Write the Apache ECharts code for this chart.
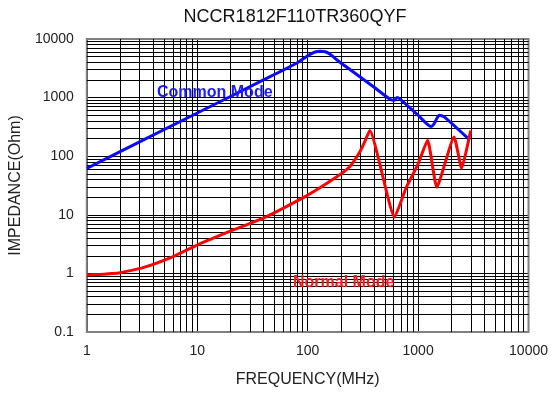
<!DOCTYPE html>
<html><head><meta charset="utf-8">
<script src="https://cdn.jsdelivr.net/npm/echarts@6/dist/echarts.min.js"></script>
<style>html,body{margin:0;padding:0;background:#fff}#c{width:551px;height:393px}</style>
</head><body><div id="c"></div>
<script>
const chartTitle = 'NCCR1812F110TR360QYF';
const xName = 'FREQUENCY(MHz)';
const yName = 'IMPEDANCE(Ohm)';
const xTicks = [1, 10, 100, 1000, 10000];
const yTicks = [0.1, 1, 10, 100, 1000, 10000];
const gridMultipliers = [2, 3, 4, 5, 6, 7, 8, 9];

const commonLabel = 'Common Mode';
const commonFreq = [1, 10, 40.6, 80, 98, 108, 117, 130, 144, 160, 183, 250, 400, 560, 610, 645, 690, 1000, 1306, 1400, 1550, 1722, 2930];
const commonZ    = [62, 546, 2040, 3900, 5040, 5600, 6000, 6150, 6050, 5500, 4430, 2870, 1500, 930, 900, 1000, 930, 500, 321, 360, 500, 470, 190];

const normalLabel = 'Normal Mode';
const normalFreq = [1, 1.95, 3.17, 5.89, 10.2, 20.4, 40.6, 93, 185, 241, 297, 330, 365, 612, 778, 991, 1219, 1476, 2118, 2478, 2990];
const normalZ    = [0.935, 1.02, 1.24, 1.9, 3.11, 5.36, 8.97, 20, 45, 66.5, 119, 180, 275, 9.2, 28.7, 71, 187, 29.5, 213, 62, 275];

const pairs = (xs, ys) => xs.map((x, i) => [x, ys[i]]);

// minor grid lines (2..9 within each decade)
const minorX = [];
for (let i = 0; i < xTicks.length - 1; i++) gridMultipliers.forEach(m => minorX.push({xAxis: xTicks[i] * m}));
const minorY = [];
for (let i = 0; i < yTicks.length - 1; i++) gridMultipliers.forEach(m => minorY.push({yAxis: +(yTicks[i] * m).toPrecision(6)}));

const FONT = '"Liberation Sans", Arial, sans-serif';
const fmt = v => String(+(+v).toPrecision(6));

const chart = echarts.init(document.getElementById('c'), null, {renderer: 'canvas'});
chart.setOption({
  animation: false,
  backgroundColor: '#fff',
  grid: {left: 85, right: 21, top: 39, bottom: 57, show: true, borderColor: '#808080', borderWidth: 2, backgroundColor: 'transparent', z: 5},
  xAxis: {
    type: 'log', logBase: 10, min: 1, max: 10000,
    name: xName, nameLocation: 'middle', nameGap: 40,
    nameTextStyle: {fontFamily: FONT, fontSize: 16, color: '#222'},
    axisLine: {show: false}, axisTick: {show: false},
    axisLabel: {fontFamily: FONT, fontSize: 14, color: '#222', margin: 12, formatter: fmt},
    splitLine: {show: true, lineStyle: {color: '#000', width: 1}}
  },
  yAxis: {
    type: 'log', logBase: 10, min: 0.1, max: 10000,
    name: yName, nameLocation: 'middle', nameGap: 56,
    nameTextStyle: {fontFamily: FONT, fontSize: 16, color: '#222'},
    axisLine: {show: false}, axisTick: {show: false},
    axisLabel: {fontFamily: FONT, fontSize: 14, color: '#222', margin: 13, formatter: fmt},
    splitLine: {show: true, lineStyle: {color: '#000', width: 1}}
  },
  series: [
    {
      type: 'line', data: [], z: 1, silent: true,
      markLine: {
        silent: true, symbol: ['none', 'none'], animation: false,
        label: {show: false},
        lineStyle: {color: '#000', width: 1, type: 'solid'},
        emphasis: {disabled: true},
        data: minorX.concat(minorY)
      }
    },
    {
      name: commonLabel, type: 'line', data: pairs(commonFreq, commonZ), z: 10,
      showSymbol: false, smooth: 0.2,
      lineStyle: {color: '#0a0aff', width: 3}
    },
    {
      name: normalLabel, type: 'line', data: pairs(normalFreq, normalZ), z: 10,
      showSymbol: false, smooth: 0.15,
      lineStyle: {color: '#ff0000', width: 3}
    }
  ],
  graphic: [
    {type: 'text', x: 295, y: 17, style: {text: chartTitle, fontFamily: FONT, fontSize: 18, fill: '#111', textAlign: 'center', textVerticalAlign: 'middle'}},
    {type: 'text', x: 157, y: 93, z: 20, style: {text: commonLabel, fontFamily: FONT, fontSize: 16, fontWeight: 'bold', fill: '#1a1aff', textAlign: 'left', textVerticalAlign: 'middle'}},
    {type: 'text', x: 293, y: 283, z: 20, style: {text: normalLabel, fontFamily: FONT, fontSize: 16, fontWeight: 'bold', fill: '#ff1a1a', textAlign: 'left', textVerticalAlign: 'middle'}}
  ]
});
</script>
</body></html>
